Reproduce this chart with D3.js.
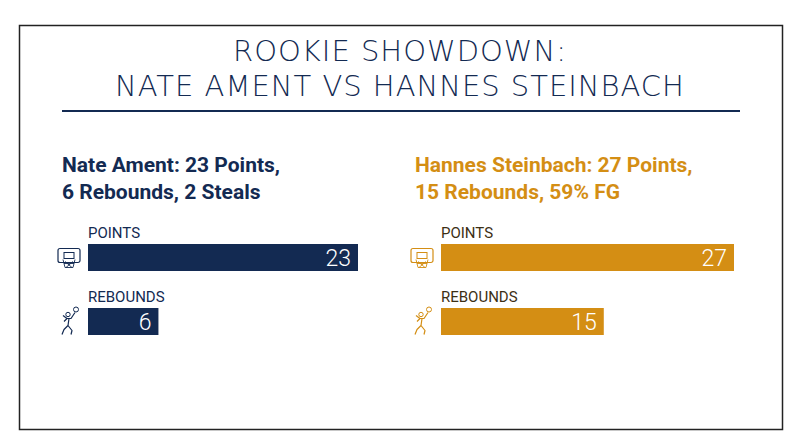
<!DOCTYPE html>
<html><head><meta charset="utf-8">
<script src="https://cdn.jsdelivr.net/npm/d3@7"></script>
<style>body{margin:0;background:#fff}</style></head>
<body><svg id="c" width="800" height="447"></svg>
<script>
const titleLines = ["ROOKIE SHOWDOWN:", "NATE AMENT VS HANNES STEINBACH"];
const players = ["Nate Ament", "Hannes Steinbach"];
const headlines = [["Nate Ament: 23 Points,", "6 Rebounds, 2 Steals"], ["Hannes Steinbach: 27 Points,", "15 Rebounds, 59% FG"]];
const categories = ["POINTS", "REBOUNDS"];
const amentValues = [23, 6];
const steinbachValues = [27, 15];
const colors = ["#132a52", "#d48e14"];
const labelColors = ["#132a52", "#3d2f14"];

const svg = d3.select("#c");
svg.append("rect").attr("x",19.5).attr("y",25.5).attr("width",763).attr("height",404)
  .attr("fill","#fff").attr("stroke","#222").attr("stroke-width",1.5);
svg.selectAll(".t").data(titleLines).join("text")
  .attr("x",400).attr("y",(d,i)=>61+i*35).attr("text-anchor","middle")
  .attr("font-family","'DejaVu Sans', sans-serif").attr("font-weight",300)
  .attr("font-size",29).attr("letter-spacing",1).attr("fill","#132a52").text(d=>d);
svg.append("line").attr("x1",62).attr("x2",740).attr("y1",111).attr("y2",111)
  .attr("stroke","#132a52").attr("stroke-width",2);

const panels = [
  {x0:88, width:270, vals:amentValues},
  {x0:441, width:293, vals:steinbachValues}
];
const y = d3.scaleBand().domain(categories).range([244,335]).paddingInner(37/64);

function hoop(g,c){
  g.append("rect").attr("x",-11).attr("y",-9).attr("width",22).attr("height",14).attr("rx",2)
    .attr("fill","none").attr("stroke",c).attr("stroke-width",1.2);
  g.append("rect").attr("x",-5).attr("y",-5).attr("width",10).attr("height",6)
    .attr("fill","none").attr("stroke",c).attr("stroke-width",1);
  g.append("path").attr("d","M-6,2 L-4,10 L4,10 L6,2 M-4,4 L3,10 M4,4 L-3,10 M-5,6 L5,6")
    .attr("fill","none").attr("stroke",c).attr("stroke-width",0.9);
}
function player(g,c){
  g.append("circle").attr("cx",7).attr("cy",-12).attr("r",2.5).attr("fill","none").attr("stroke",c);
  g.append("circle").attr("cx",-1).attr("cy",-7).attr("r",2.2).attr("fill","none").attr("stroke",c);
  g.append("path").attr("d","M6,-9 L2,-3 L-2,-3 L-5,0 M0,-3 L-1,4 L3,9 L2,13 M-1,4 L-5,8 L-7,13 M-2,-3 L-6,-6")
    .attr("fill","none").attr("stroke",c).attr("stroke-width",1.2).attr("stroke-linejoin","round");
}

panels.forEach((p,pi)=>{
  const g = svg.append("g");
  g.selectAll(".h").data(headlines[pi]).join("text")
    .attr("x",p.x0-26).attr("y",(d,i)=>172+i*27)
    .attr("font-family","Roboto, sans-serif").attr("font-weight",700).attr("font-size",21)
    .attr("fill",colors[pi]).text(d=>d);
  const x = d3.scaleLinear().domain([0,d3.max(p.vals)]).range([p.x0,p.x0+p.width]);
  categories.forEach((c,ci)=>{
    const by = y(c), bh = y.bandwidth();
    g.append("text").attr("x",p.x0).attr("y",by-6).attr("font-family","Roboto, sans-serif")
      .attr("font-size",15).attr("fill",labelColors[pi]).text(c);
    g.append("rect").attr("x",x(0)).attr("y",by).attr("width",x(p.vals[ci])-x(0)).attr("height",bh)
      .attr("fill",colors[pi]);
    g.append("text").attr("x",x(p.vals[ci])-7).attr("y",by+bh/2+8).attr("text-anchor","end")
      .attr("font-family","Roboto, sans-serif").attr("font-weight",300).attr("font-size",23)
      .attr("fill","#fff").text(p.vals[ci]);
    const ig = g.append("g").attr("transform",`translate(${p.x0-19},${by+bh/2})`);
    if(ci===0) hoop(ig,colors[pi]); else player(ig,colors[pi]);
  });
});
</script></body></html>
